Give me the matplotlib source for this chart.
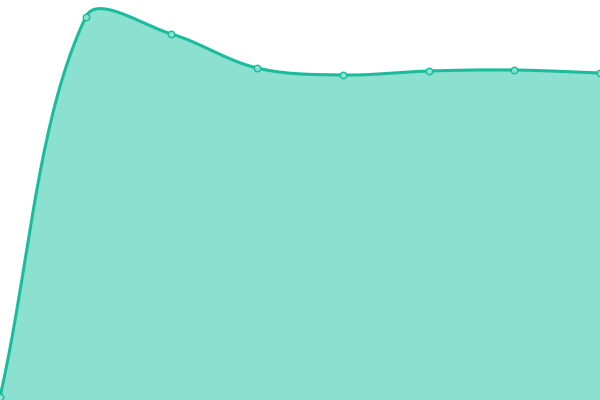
import matplotlib
matplotlib.use('Agg')
import matplotlib.pyplot as plt
import numpy as np

# data (one value per category, y range 0..400)
categories = ['A', 'B', 'C', 'D', 'E', 'F', 'G', 'H']
values = [3, 383, 366, 332, 325, 329, 330, 327]

line_color = '#1abc9c'
fill_color = '#8be0d0'
smooth = 0.35

fig = plt.figure(figsize=(6, 4), dpi=100)
ax = fig.add_axes([0, 0, 1, 1])
ax.set_xlim(0, len(categories) - 1)
ax.set_ylim(0, 400)
ax.axis('off')

# bezier smoothing done in display space
xs = np.arange(len(categories))
pts = ax.transData.transform(np.column_stack([xs, values]))
n = len(pts)
curve = [pts[0]]
cps = []
for i in range(n):
    p = pts[i]
    prev = pts[i - 1] if i > 0 else p
    nxt = pts[i + 1] if i < n - 1 else p
    v = (nxt - prev) * smooth
    d0 = np.hypot(*(p - prev))
    d1 = np.hypot(*(p - nxt))
    s = d0 + d1
    if s > 0:
        d0, d1 = d0 / s, d1 / s
    cps.append((p - v * d0, p + v * d1))

t = np.linspace(0, 1, 40)[:, None]
for i in range(n - 1):
    p0, p3 = pts[i], pts[i + 1]
    c1, c2 = cps[i][1], cps[i + 1][0]
    seg = ((1 - t) ** 3) * p0 + 3 * ((1 - t) ** 2) * t * c1 + 3 * (1 - t) * t ** 2 * c2 + t ** 3 * p3
    curve.extend(seg[1:])
curve = ax.transData.inverted().transform(np.array(curve))

ax.fill_between(curve[:, 0], curve[:, 1], 0, color=fill_color, lw=0, zorder=1)
ax.plot(curve[:, 0], curve[:, 1], color=line_color, lw=2.2, zorder=2, clip_on=False)
ax.scatter(xs, values, s=22, facecolor=fill_color, edgecolor=line_color,
           linewidth=1, zorder=3, clip_on=False)

fig.savefig('out.png')
